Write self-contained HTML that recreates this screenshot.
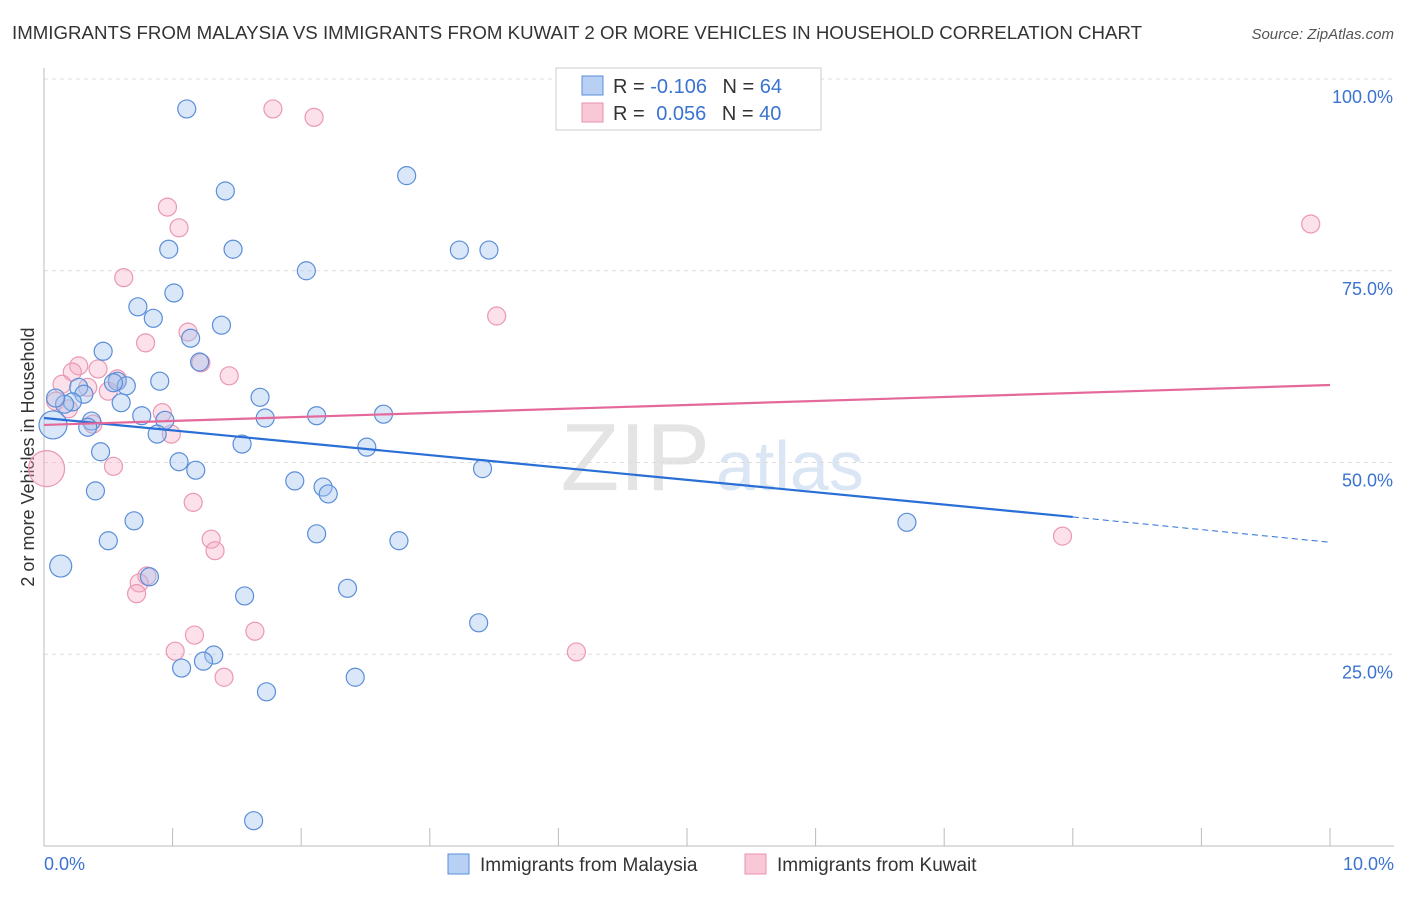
<!DOCTYPE html>
<html><head><meta charset="utf-8"><style>
body{margin:0;background:#fff;font-family:"Liberation Sans",sans-serif;}
svg text{font-family:"Liberation Sans",sans-serif;}
</style></head><body>
<svg id="chart" width="1406" height="892">
<text x="12" y="39" font-size="18" fill="#333" textLength="1130" lengthAdjust="spacingAndGlyphs">IMMIGRANTS FROM MALAYSIA VS IMMIGRANTS FROM KUWAIT 2 OR MORE VEHICLES IN HOUSEHOLD CORRELATION CHART</text>
<text x="1394" y="39" font-size="15" fill="#555" font-style="italic" text-anchor="end">Source: ZipAtlas.com</text>
<text x="710" y="490" font-size="96" fill="#e4e4e4" font-family="Liberation Serif" text-anchor="end">ZIP</text>
<text x="716" y="490" font-size="70" fill="#dbe6f4">atlas</text>
<text transform="translate(34,457) rotate(-90)" font-size="18" fill="#333" text-anchor="middle">2 or more Vehicles in Household</text>
<g id="grid"></g><g id="axes"></g><g id="pts"></g><g id="lines"></g>
<g>
<rect x="556" y="68" width="265" height="62" fill="#fff" stroke="#ccc"/>
<rect x="582" y="76" width="21" height="19" fill="#b7d0f3" stroke="#5b8ed8"/>
<rect x="582" y="103" width="21" height="19" fill="#f8c8d7" stroke="#e890ae"/>
<text x="613" y="93" font-size="20" fill="#333">R = <tspan fill="#3b73d0">-0.106</tspan>  <tspan dx="10">N = </tspan><tspan fill="#3b73d0">64</tspan></text>
<text x="613" y="120" font-size="20" fill="#333">R = <tspan fill="#3b73d0" dx="6">0.056</tspan>  <tspan dx="10">N = </tspan><tspan fill="#3b73d0">40</tspan></text>
</g>
<g>
<rect x="448" y="854" width="21" height="20" fill="#b7d0f3" stroke="#5b8ed8"/>
<text x="480" y="871" font-size="19" fill="#333">Immigrants from Malaysia</text>
<rect x="745" y="854" width="21" height="20" fill="#f8c8d7" stroke="#e890ae"/>
<text x="777" y="871" font-size="19" fill="#333">Immigrants from Kuwait</text>
</g>
</svg>
<script>
const blueX=[1.11,1.41,2.82,0.97,1.47,3.23,3.46,2.04,1.01,0.73,0.85,1.38,1.14,0.46,1.21,0.90,0.57,0.64,0.54,0.27,0.31,1.68,0.60,0.22,0.16,0.09,0.76,0.94,1.72,2.12,2.64,0.37,0.34,0.07,0.88,1.54,2.51,0.44,1.05,1.18,3.41,1.95,2.17,2.21,0.40,0.70,6.71,2.12,0.50,2.76,0.13,0.82,2.36,1.56,3.38,1.32,1.24,1.07,2.42,1.73,1.63];
const blueY=[96.1,85.4,87.4,77.8,77.8,77.7,77.7,75.0,72.1,70.3,68.8,67.9,66.2,64.5,63.1,60.6,60.6,60.0,60.4,59.8,58.9,58.5,57.8,57.9,57.6,58.4,56.1,55.5,55.8,56.1,56.3,55.4,54.6,54.9,53.7,52.4,52.0,51.4,50.1,49.0,49.2,47.6,46.8,45.9,46.3,42.4,42.2,40.7,39.8,39.8,36.5,35.1,33.6,32.6,29.1,24.9,24.1,23.2,22.0,20.1,3.3];
const blueR=[9,9,9,9,9,9,9,9,9,9,9,9,9,9,9,9,9,9,9,9,9,9,9,9,9,9,9,9,9,9,9,9,9,14,9,9,9,9,9,9,9,9,9,9,9,9,9,9,9,9,11,9,9,9,9,9,9,9,9,9,9];
const pinkX=[1.78,2.10,0.96,1.05,9.85,0.62,3.52,1.12,0.79,1.22,0.27,0.22,0.42,1.44,0.14,0.34,0.57,0.50,0.09,0.19,0.92,0.38,0.99,0.02,0.54,1.16,1.30,1.33,7.92,0.80,0.74,0.72,1.17,1.64,1.02,4.14,1.40];
const pinkY=[96.1,95.0,83.3,80.6,81.1,74.1,69.1,67.0,65.6,63.0,62.6,61.8,62.2,61.3,60.2,59.8,60.9,59.3,58.0,57.0,56.5,55.0,53.7,49.2,49.5,44.8,40.0,38.5,40.4,35.2,34.3,32.9,27.5,28.0,25.4,25.3,22.0];
const pinkR=[9,9,9,9,9,9,9,9,9,9,9,9,9,9,9,9,9,9,9,9,9,9,9,18,9,9,9,9,9,9,9,9,9,9,9,9,9];
const yTicks=[100,75,50,25];
const yTickLabels=["100.0%","75.0%","50.0%","25.0%"];
const blueTrend=[55.8,42.9,39.6];
const pinkTrend=[54.9,60.1];
const NS="http://www.w3.org/2000/svg";
const sx=v=>44+v/10*1286;
const sy=v=>846-v/100*767;
function mk(t,a,p){const e=document.createElementNS(NS,t);for(const k in a)e.setAttribute(k,a[k]);p.appendChild(e);return e;}
const grid=document.getElementById('grid'),axes=document.getElementById('axes'),pts=document.getElementById('pts'),lines=document.getElementById('lines');
yTicks.forEach((t,i)=>{
 const g=mk('line',{x1:44,x2:1394,y1:sy(t),y2:sy(t),stroke:'#ddd','stroke-dasharray':'4,4'},grid);
 
 
 const l=mk('text',{x:1393,y:sy(t)+24,'font-size':18,fill:'#3b73d0','text-anchor':'end'},grid);
 l.textContent=yTickLabels[i];
 
 
});
const ya=mk('line',{x1:44,x2:44,y1:68,y2:846,stroke:'#bbb'},axes);


const xa=mk('line',{x1:44,x2:1394,y1:846,y2:846,stroke:'#bbb'},axes);


for(let i=0;i<=10;i++){const tk=mk('line',{x1:sx(i),x2:sx(i),y1:828,y2:846,stroke:'#bbb'},axes);
 
 }
const x0=mk('text',{x:44,y:870,'font-size':18,fill:'#3b73d0'},axes);x0.textContent='0.0%';


const x1=mk('text',{x:1394,y:870,'font-size':18,fill:'#3b73d0','text-anchor':'end'},axes);x1.textContent='10.0%';


pinkX.forEach((x,i)=>{const c=mk('circle',{cx:sx(x),cy:sy(pinkY[i]),r:pinkR[i],fill:'rgba(245,170,195,0.35)',stroke:'#ea98b4','stroke-width':1.2},pts);
 
 });
blueX.forEach((x,i)=>{const c=mk('circle',{cx:sx(x),cy:sy(blueY[i]),r:blueR[i],fill:'rgba(160,195,240,0.4)',stroke:'#5b8ed8','stroke-width':1.2},pts);
 
 });
const bl=mk('line',{x1:sx(0),y1:sy(blueTrend[0]),x2:sx(8),y2:sy(blueTrend[1]),stroke:'#2a6fd6','stroke-width':2.2},lines);


const bd=mk('line',{x1:sx(8),y1:sy(blueTrend[1]),x2:sx(10),y2:sy(blueTrend[2]),stroke:'#2a6fd6','stroke-width':1,'stroke-dasharray':'6,4'},lines);


const pl=mk('line',{x1:sx(0),y1:sy(pinkTrend[0]),x2:sx(10),y2:sy(pinkTrend[1]),stroke:'#e4689a','stroke-width':2.2},lines);


</script>
</body></html>
